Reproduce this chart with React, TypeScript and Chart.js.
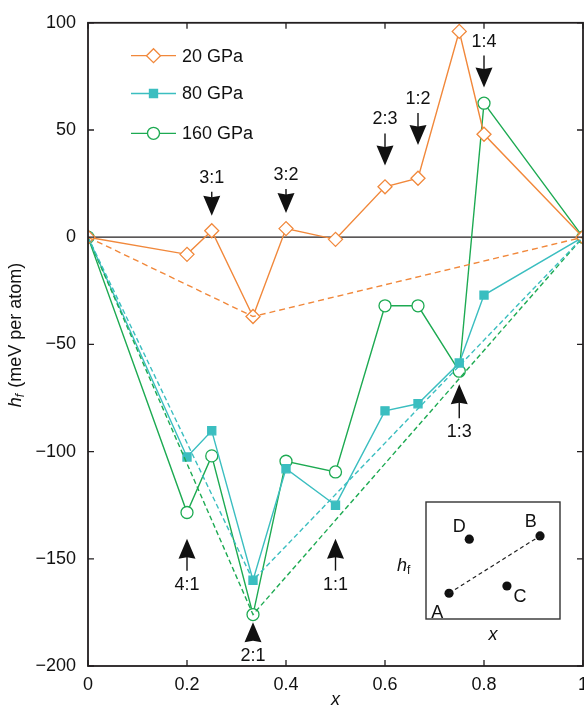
import React, { useEffect, useRef } from 'react';
import { Chart, registerables } from 'chart.js';
import { drawPoint } from 'chart.js/helpers';

Chart.register(...registerables);

const FONT = 'Liberation Sans, Arial, Helvetica, sans-serif';

// ---- data ----
const xValues = [0, 0.2, 0.25, 1 / 3, 0.4, 0.5, 0.6, 2 / 3, 0.75, 0.8, 1];
const h20 = [0, -8, 3, -37, 4, -1, 23.5, 27.5, 96, 48, 0];
const h80 = [0, -102.5, -90.3, -160, -108, -125, -81, -77.7, -58.7, -27, 0];
const h160 = [0, -128.4, -102, -176, -104.5, -109.5, -32, -32, -62.5, 62.5, 0];

const hullX = [0, 1 / 3, 1];
const hull20 = [0, -37, 0];
const hull80 = [0, -160, 0];
const hull160 = [0, -176, 0];

const seriesNames = ['20 GPa', '80 GPa', '160 GPa'];
const xTicks = [0, 0.2, 0.4, 0.6, 0.8, 1];
const yTicks = [-200, -150, -100, -50, 0, 50, 100];

// stoichiometry arrows
const arrowLabels = ['3:1', '3:2', '2:3', '1:2', '1:4', '1:3', '4:1', '1:1', '2:1'];
const arrowX = [0.25, 0.4, 0.6, 2 / 3, 0.8, 0.75, 0.2, 0.5, 1 / 3];
const arrowTip = [10, 11.3, 33.5, 43, 69.8, -68.6, -140.6, -140.6, -179.6];
const arrowUp = [false, false, false, false, false, true, true, true, true];
const arrowStem = [4, 4, 12, 12, 12, 14, 12, 12, 0];

// inset schematic
const insetLabels = ['A', 'B', 'C', 'D'];
const insetX = [0.172, 0.851, 0.604, 0.323];
const insetY = [0.22, 0.71, 0.282, 0.682];
const insetLabelDX = [-11.7, -9.3, 13, -10];
const insetLabelDY = [20, -14, 10.7, -12.3];

const C20 = '#F1883B';
const C80 = '#3BBEC0';
const C160 = '#1DAA52';
const INK = '#231F20';

const toXY = (xs: number[], ys: number[]) => xs.map((x, i) => ({ x, y: ys[i] }));

const fmtY = (v: number) => (v < 0 ? '\u2212' + Math.abs(v) : String(v));
const fmtX = (v: number) => String(+v.toFixed(1));

const mainStyles = [
  { color: C20, style: 'rectRot', radius: 7, fill: '#ffffff' },
  { color: C80, style: 'rect', radius: 5.7, fill: C80 },
  { color: C160, style: 'circle', radius: 6, fill: '#ffffff' },
];

const decorPlugin = {
  id: 'decor',
  beforeDatasetsDraw(chart: any) {
    const { ctx, chartArea: a } = chart;
    const ys = chart.scales.y;
    const y0 = ys.getPixelForValue(0);
    ctx.save();
    ctx.strokeStyle = INK;
    ctx.lineWidth = 1.2;
    ctx.beginPath();
    ctx.moveTo(a.left, y0);
    ctx.lineTo(a.right, y0);
    ctx.stroke();
    ctx.restore();
  },
  afterDraw(chart: any) {
    const { ctx, chartArea: a } = chart;
    const xs = chart.scales.x;
    const ys = chart.scales.y;
    ctx.save();
    // frame
    ctx.strokeStyle = INK;
    ctx.lineWidth = 1.8;
    ctx.strokeRect(a.left, a.top, a.right - a.left, a.bottom - a.top);
    // inward ticks
    ctx.lineWidth = 1.3;
    const tl = 6;
    ctx.beginPath();
    xs.ticks.forEach((t: any) => {
      const px = xs.getPixelForValue(t.value);
      ctx.moveTo(px, a.bottom);
      ctx.lineTo(px, a.bottom - tl);
      ctx.moveTo(px, a.top);
      ctx.lineTo(px, a.top + tl);
    });
    ys.ticks.forEach((t: any) => {
      const py = ys.getPixelForValue(t.value);
      ctx.moveTo(a.left, py);
      ctx.lineTo(a.left + tl, py);
      ctx.moveTo(a.right, py);
      ctx.lineTo(a.right - tl, py);
    });
    ctx.stroke();

    // legend
    const legY = [55.7, 93.5, 133.3];
    seriesNames.forEach((name, i) => {
      const s = mainStyles[i];
      const y = legY[i];
      ctx.strokeStyle = s.color;
      ctx.lineWidth = 1.3;
      ctx.beginPath();
      ctx.moveTo(131, y);
      ctx.lineTo(176, y);
      ctx.stroke();
      ctx.fillStyle = s.fill;
      ctx.strokeStyle = s.color;
      ctx.lineWidth = 1.3;
      drawPoint(ctx, { pointStyle: s.style, radius: s.radius, borderWidth: 1.3, rotation: 0 } as any, 153.5, y);
      ctx.fillStyle = '#111';
      ctx.font = `18px ${FONT}`;
      ctx.textAlign = 'left';
      ctx.textBaseline = 'middle';
      ctx.fillText(name, 182, y + 1);
    });

    // arrows
    ctx.fillStyle = '#111';
    ctx.strokeStyle = '#111';
    arrowLabels.forEach((lab, i) => {
      const px = xs.getPixelForValue(arrowX[i]);
      const tip = ys.getPixelForValue(arrowTip[i]);
      const d = arrowUp[i] ? 1 : -1; // direction from tip toward tail
      const headLen = 20;
      const hw = 8.5;
      ctx.beginPath();
      ctx.moveTo(px, tip);
      ctx.lineTo(px - hw, tip + d * headLen);
      ctx.lineTo(px, tip + d * (headLen - 1.5));
      ctx.lineTo(px + hw, tip + d * headLen);
      ctx.closePath();
      ctx.fill();
      if (arrowStem[i] > 0) {
        ctx.lineWidth = 1.4;
        ctx.beginPath();
        ctx.moveTo(px, tip + d * (headLen - 2));
        ctx.lineTo(px, tip + d * (headLen + arrowStem[i]));
        ctx.stroke();
      }
      ctx.font = `18px ${FONT}`;
      ctx.textAlign = 'center';
      ctx.textBaseline = 'middle';
      ctx.fillText(lab, px, tip + d * (headLen + arrowStem[i] + 14));
    });

    // axis titles
    ctx.fillStyle = '#111';
    ctx.textBaseline = 'middle';
    ctx.font = `italic 18px ${FONT}`;
    ctx.textAlign = 'center';
    ctx.fillText('x', (a.left + a.right) / 2, 700);

    ctx.translate(16, 335);
    ctx.rotate(-Math.PI / 2);
    const fMain = `18px ${FONT}`;
    const fIt = `italic 18px ${FONT}`;
    const fSub = `italic 12px ${FONT}`;
    const rest = ' (meV per atom)';
    ctx.font = fIt;
    const wH = ctx.measureText('h').width;
    ctx.font = fSub;
    const wF = ctx.measureText('f').width;
    ctx.font = fMain;
    const wR = ctx.measureText(rest).width;
    let x0 = -(wH + wF + 1 + wR) / 2;
    ctx.textAlign = 'left';
    ctx.font = fIt;
    ctx.fillText('h', x0, 0);
    x0 += wH;
    ctx.font = fSub;
    ctx.fillText('f', x0, 5);
    x0 += wF + 1;
    ctx.font = fMain;
    ctx.fillText(rest, x0, 0);
    ctx.restore();
  },
};

const insetPlugin = {
  id: 'insetDecor',
  afterDraw(chart: any) {
    const { ctx, chartArea: a } = chart;
    const xs = chart.scales.x;
    const ys = chart.scales.y;
    ctx.save();
    ctx.strokeStyle = '#333';
    ctx.lineWidth = 1.4;
    ctx.strokeRect(a.left, a.top, a.right - a.left, a.bottom - a.top);
    ctx.fillStyle = '#111';
    ctx.font = `18px ${FONT}`;
    ctx.textAlign = 'center';
    ctx.textBaseline = 'middle';
    insetLabels.forEach((lab, i) => {
      const px = xs.getPixelForValue(insetX[i]) + insetLabelDX[i];
      const py = ys.getPixelForValue(insetY[i]) + insetLabelDY[i];
      ctx.fillText(lab, px, py);
    });
    // axis titles
    ctx.font = `italic 18px ${FONT}`;
    ctx.fillText('x', (a.left + a.right) / 2, a.bottom + 16);
    ctx.textAlign = 'left';
    const hx = a.left - 29;
    const hy = (a.top + a.bottom) / 2 + 5;
    ctx.fillText('h', hx, hy);
    const w = ctx.measureText('h').width;
    ctx.font = `12px ${FONT}`;
    ctx.fillText('f', hx + w, hy + 5);
    ctx.restore();
  },
};

function MainChart() {
  const ref = useRef<HTMLCanvasElement | null>(null);
  useEffect(() => {
    if (!ref.current) return;
    Chart.defaults.font.family = FONT;
    const hullDs = (ys: number[], color: string, dash: number[]) => ({
      data: toXY(hullX, ys),
      borderColor: color,
      borderWidth: 1.4,
      borderDash: dash,
      pointRadius: 0,
      fill: false,
      tension: 0,
    });
    const serDs = (ys: number[], i: number, label: string) => ({
      label,
      data: toXY(xValues, ys),
      borderColor: mainStyles[i].color,
      borderWidth: 1.4,
      pointStyle: mainStyles[i].style,
      pointRadius: mainStyles[i].radius,
      pointBackgroundColor: mainStyles[i].fill,
      pointBorderColor: mainStyles[i].color,
      pointBorderWidth: 1.3,
      fill: false,
      tension: 0,
    });
    const chart = new Chart(ref.current, {
      type: 'line',
      data: {
        datasets: [
          hullDs(hull20, C20, [6, 4]),
          hullDs(hull80, C80, [5, 3]),
          hullDs(hull160, C160, [5, 3]),
          serDs(h20, 0, seriesNames[0]),
          serDs(h80, 1, seriesNames[1]),
          serDs(h160, 2, seriesNames[2]),
        ] as any,
      },
      options: {
        animation: false,
        responsive: false,
        events: [],
        layout: { padding: { top: 20, right: 17, bottom: 0, left: 0 } },
        plugins: { legend: { display: false }, tooltip: { enabled: false } },
        scales: {
          x: {
            type: 'linear',
            min: 0,
            max: 1,
            grid: { display: false, drawTicks: false },
            border: { display: false },
            afterBuildTicks: (s: any) => {
              s.ticks = xTicks.map((v) => ({ value: v }));
            },
            afterFit: (s: any) => {
              s.height = 43;
            },
            ticks: {
              padding: 8,
              maxRotation: 0,
              color: '#111',
              font: { size: 18, family: FONT },
              callback: (v: any) => fmtX(Number(v)),
            },
          },
          y: {
            type: 'linear',
            min: -200,
            max: 100,
            grid: { display: false, drawTicks: false },
            border: { display: false },
            afterBuildTicks: (s: any) => {
              s.ticks = yTicks.map((v) => ({ value: v }));
            },
            afterFit: (s: any) => {
              s.width = 88;
            },
            ticks: {
              padding: 12,
              color: '#111',
              font: { size: 18, family: FONT },
              callback: (v: any) => fmtY(Number(v)),
            },
          },
        },
      } as any,
      plugins: [decorPlugin],
    });
    return () => chart.destroy();
  }, []);
  return (
    <canvas
      ref={ref}
      width={600}
      height={709}
      style={{ position: 'absolute', left: 0, top: 0, width: 600, height: 709 }}
    />
  );
}

function InsetChart() {
  const ref = useRef<HTMLCanvasElement | null>(null);
  useEffect(() => {
    if (!ref.current) return;
    const chart = new Chart(ref.current, {
      type: 'scatter',
      data: {
        datasets: [
          {
            data: [
              { x: insetX[0], y: insetY[0] },
              { x: insetX[1], y: insetY[1] },
            ],
            showLine: true,
            borderColor: '#222',
            borderWidth: 1.2,
            borderDash: [4, 3],
            pointRadius: 0,
          },
          {
            data: toXY(insetX, insetY),
            pointRadius: 4.6,
            pointBackgroundColor: '#111',
            pointBorderColor: '#111',
            pointBorderWidth: 0,
            showLine: false,
          },
        ] as any,
      },
      options: {
        animation: false,
        responsive: false,
        events: [],
        layout: { padding: { left: 36, top: 7, right: 10, bottom: 26 } },
        plugins: { legend: { display: false }, tooltip: { enabled: false } },
        scales: {
          x: { type: 'linear', min: 0, max: 1, display: false },
          y: { type: 'linear', min: 0, max: 1, display: false },
        },
      } as any,
      plugins: [insetPlugin],
    });
    return () => chart.destroy();
  }, []);
  return (
    <canvas
      ref={ref}
      width={180}
      height={150}
      style={{ position: 'absolute', left: 390, top: 495, width: 180, height: 150 }}
    />
  );
}

export default function App() {
  return (
    <div
      style={{
        position: 'absolute',
        left: 0,
        top: 0,
        width: 584,
        height: 709,
        overflow: 'hidden',
        background: '#fff',
      }}
    >
      <MainChart />
      <InsetChart />
    </div>
  );
}
